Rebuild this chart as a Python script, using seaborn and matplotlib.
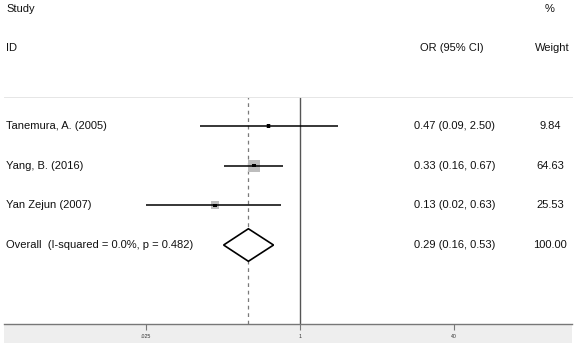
import matplotlib
matplotlib.use("Agg")
import matplotlib.pyplot as plt
import matplotlib.transforms as mtransforms
from matplotlib.patches import Rectangle
import seaborn as sns
import pandas as pd

sns.set_theme(style="white")
plt.rcParams['font.family'] = ['Liberation Sans', 'DejaVu Sans']

studies = ["Tanemura, A. (2005)", "Yang, B. (2016)", "Yan Zejun (2007)"]
odds_ratio = [0.47, 0.33, 0.13]
ci_lower = [0.09, 0.16, 0.025]
ci_upper = [2.50, 0.67, 0.63]
weights = [9.84, 64.63, 25.53]
or_labels = ["0.47 (0.09, 2.50)", "0.33 (0.16, 0.67)", "0.13 (0.02, 0.63)"]
weight_labels = ["9.84", "64.63", "25.53"]

overall_label = "Overall  (I-squared = 0.0%, p = 0.482)"
overall_or = 0.29
overall_lower = 0.16
overall_upper = 0.53
overall_or_label = "0.29 (0.16, 0.53)"
overall_weight_label = "100.00"

xticks = [0.025, 1, 40]
xtick_labels = [".025", "1", "40"]

W, H = 576, 347
fig = plt.figure(figsize=(W / 100, H / 100), dpi=100)
fig.patch.set_facecolor("white")

# axes in pixel bounds: x 4..572, y 97..324
ax = fig.add_axes([4 / W, 1 - 324 / H, 568 / W, 227 / H])
ax.set_facecolor("none")
ax.set_xscale("log")
ax.set_xlim(10 ** (-296 / 96), 10 ** (272 / 96))
ax.set_ylim(4.99, -0.73)

df = pd.DataFrame({"study": studies, "or": odds_ratio, "lo": ci_lower,
                   "hi": ci_upper, "w": weights, "row": list(range(len(studies)))})

# confidence interval lines
ax.hlines(df["row"], df["lo"], df["hi"], color="black", lw=1.1, zorder=3)

# weighted squares
sns.scatterplot(data=df, x="or", y="row", size="w", sizes=(0, 120),
                size_norm=(0, 100), marker="s", color="#bdbdbd",
                edgecolor="none", legend=False, ax=ax, zorder=2)
# point estimates
sns.scatterplot(data=df, x="or", y="row", marker="s", color="black",
                s=7, edgecolor="none", legend=False, ax=ax, zorder=4)

# reference lines
ax.axvline(1, color="#555555", lw=1.0, zorder=1)
ax.axvline(overall_or, color="#7a7a7a", lw=0.9, ls=(0, (3, 3)), zorder=1)

# overall diamond
orow = len(studies)
dh = 0.41
ax.fill([overall_lower, overall_or, overall_upper, overall_or, overall_lower],
        [orow, orow - dh, orow, orow + dh, orow],
        facecolor="white", edgecolor="black", lw=1.2, zorder=3)

# axis styling
for s in ["left", "right"]:
    ax.spines[s].set_visible(False)
ax.spines["top"].set_color("#e6e6e6")
ax.spines["top"].set_linewidth(0.7)
ax.spines["bottom"].set_color("#777777")
ax.spines["bottom"].set_linewidth(1.0)
ax.set_xticks(xticks)
ax.set_xticklabels(xtick_labels)
ax.minorticks_off()
ax.set_yticks([])
ax.set_xlabel("")
ax.set_ylabel("")
ax.tick_params(axis="x", bottom=True, length=4, width=0.8, color="#777777",
               labelsize=3.8, labelcolor="#333333", pad=3)

# gray band under the axis
fig.add_artist(Rectangle((4 / W, 1 - 343 / H), 568 / W, 19 / H,
                         transform=fig.transFigure, facecolor="#eeeeee",
                         edgecolor="none", zorder=-1))

# text columns
tr = mtransforms.blended_transform_factory(fig.transFigure, ax.transData)
fs = 8
col_study = 6 / W
col_or = 414 / W
col_w = 550 / W
col_orh = 452 / W

ax.text(col_study, -2.95, "Study", transform=tr, fontsize=fs, va="center",
        ha="left", clip_on=False, color="#111111")
ax.text(col_study, -1.96, "ID", transform=tr, fontsize=fs, va="center",
        ha="left", clip_on=False, color="#111111")
ax.text(col_w, -2.95, "%", transform=tr, fontsize=fs, va="center",
        ha="center", clip_on=False, color="#111111")
ax.text(col_w + 2 / W, -1.96, "Weight", transform=tr, fontsize=fs, va="center",
        ha="center", clip_on=False, color="#111111")
ax.text(col_orh, -1.96, "OR (95% CI)", transform=tr, fontsize=fs, va="center",
        ha="center", clip_on=False, color="#111111")

for i, name in enumerate(studies):
    ax.text(col_study, i, name, transform=tr, fontsize=fs, va="center",
            ha="left", clip_on=False, color="#111111")
    ax.text(col_or, i, or_labels[i], transform=tr, fontsize=fs, va="center",
            ha="left", clip_on=False, color="#111111")
    ax.text(col_w, i, weight_labels[i], transform=tr, fontsize=fs, va="center",
            ha="center", clip_on=False, color="#111111")

ax.text(col_study, orow, overall_label, transform=tr, fontsize=fs,
        va="center", ha="left", clip_on=False, color="#111111")
ax.text(col_or, orow, overall_or_label, transform=tr, fontsize=fs,
        va="center", ha="left", clip_on=False, color="#111111")
ax.text(col_w, orow, overall_weight_label, transform=tr, fontsize=fs,
        va="center", ha="center", clip_on=False, color="#111111")

fig.savefig("out.png", dpi=100, facecolor="white")
